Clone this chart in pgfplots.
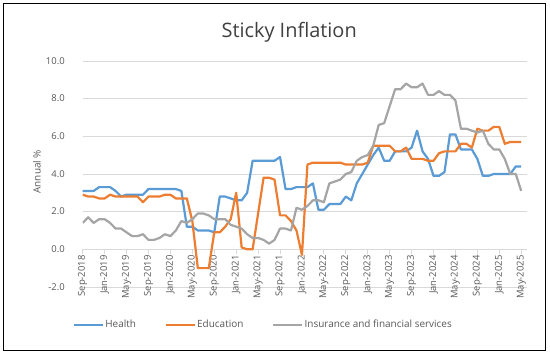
\documentclass[border=0pt]{standalone}
\usepackage{fontspec}
\setmainfont{Open Sans}
\usepackage{pgfplots}
\usepackage{pgfplotstable}
\pgfplotsset{compat=1.18}
\definecolor{cblue}{HTML}{5B9BD5}
\definecolor{corange}{HTML}{ED7D31}
\definecolor{cgray}{HTML}{A5A5A5}
\definecolor{cgrid}{HTML}{D9D9D9}
\definecolor{ctext}{HTML}{595959}
\definecolor{ctitle}{HTML}{404040}
\pgfplotstableread{
m health edu ins
0 3.1 2.9 1.4
1 3.1 2.8 1.7
2 3.1 2.8 1.4
3 3.3 2.7 1.6
4 3.3 2.7 1.6
5 3.3 2.9 1.4
6 3.1 2.8 1.1
7 2.8 2.8 1.1
8 2.9 2.8 0.9
9 2.9 2.8 0.7
10 2.9 2.8 0.7
11 2.9 2.5 0.8
12 3.2 2.8 0.5
13 3.2 2.8 0.5
14 3.2 2.8 0.6
15 3.2 2.9 0.8
16 3.2 2.9 0.7
17 3.2 2.7 1.0
18 3.1 2.7 1.5
19 1.2 2.7 1.4
20 1.2 1.5 1.6
21 1.0 -1.0 1.9
22 1.0 -1.0 1.9
23 1.0 -1.0 1.8
24 0.9 0.9 1.6
25 2.8 0.9 1.6
26 2.8 1.2 1.6
27 2.7 1.6 1.3
28 2.6 3.0 1.2
29 2.6 0.1 1.1
30 3.0 0.0 0.8
31 4.7 0.0 0.6
32 4.7 1.9 0.6
33 4.7 3.8 0.5
34 4.7 3.8 0.3
35 4.7 3.7 0.5
36 4.9 1.8 1.1
37 3.2 1.8 1.1
38 3.2 1.5 1.0
39 3.3 1.0 2.2
40 3.3 -0.3 2.1
41 3.3 4.5 2.3
42 3.5 4.6 2.6
43 2.1 4.6 2.6
44 2.1 4.6 2.5
45 2.4 4.6 3.5
46 2.4 4.6 3.6
47 2.4 4.6 3.7
48 2.8 4.5 4.0
49 2.6 4.5 4.1
50 3.5 4.5 4.7
51 4.0 4.5 4.9
52 4.5 4.6 5.0
53 5.0 5.5 5.5
54 5.4 5.5 6.6
55 4.7 5.5 6.7
56 4.7 5.5 7.6
57 5.2 5.2 8.5
58 5.2 5.2 8.5
59 5.2 5.4 8.8
60 5.4 4.8 8.6
61 6.3 4.8 8.6
62 5.2 4.8 8.8
63 4.8 4.7 8.2
64 3.9 4.7 8.2
65 3.9 5.1 8.4
66 4.1 5.2 8.2
67 6.1 5.2 8.2
68 6.1 5.2 7.9
69 5.3 5.6 6.4
70 5.3 5.6 6.4
71 5.3 5.4 6.3
72 4.8 6.4 6.2
73 3.9 6.3 6.3
74 3.9 6.3 5.6
75 4.0 6.5 5.3
76 4.0 6.5 5.3
77 4.0 5.6 4.8
78 4.0 5.7 4.0
79 4.4 5.7 4.0
80 4.4 5.7 3.1
}\datatable
\begin{document}
\begin{tikzpicture}
\path[use as bounding box] (0bp,0bp) rectangle (550bp,354bp);
\fill[white] (0bp,0bp) rectangle (550bp,354bp);
\draw[black, line width=0.9bp] (3.5bp,4bp) rectangle (545.5bp,351bp);
\begin{axis}[
  at={(82.7bp,104.7bp)}, anchor=origin,
  scale only axis, width=444bp, height=226bp,
  xmin=0, xmax=81, ymin=-2, ymax=10,
  axis x line=middle, axis y line=left,
  hide obscured x ticks=false,
  axis line style={-},
  x axis line style={draw=cgrid, line width=0.9bp},
  y axis line style={draw=none},
  ymajorgrids, major grid style={draw=cgrid, line width=0.9bp},
  ytick={-2,0,...,10},
  ytick style={draw=none},
  xtick={0,4,...,80},
  xticklabels={Sep-2018,Jan-2019,May-2019,Sep-2019,Jan-2020,May-2020,Sep-2020,Jan-2021,May-2021,Sep-2021,Jan-2022,May-2022,Sep-2022,Jan-2023,May-2023,Sep-2023,Jan-2024,May-2024,Sep-2024,Jan-2025,May-2025},
  xtick align=outside,
  x tick style={draw=cgrid, line width=0.9bp},
  major tick length=5bp,
  xticklabel style={rotate=90, anchor=east, font=\fontsize{9.5}{11}\selectfont, text=ctext, inner sep=1bp},
  yticklabel style={font=\fontsize{9.5}{11}\selectfont, text=ctext, xshift=-12bp},
  /pgf/number format/.cd, fixed, fixed zerofill, precision=1, assume math mode=true,
  /pgfplots/.cd,
  ylabel={Annual \%},
  every axis y label/.style={at={(axis description cs:-0.103,0.51)}, rotate=90, anchor=center, font=\fontsize{10}{12}\selectfont, text=ctext},
  title={Sticky Inflation},
  every axis title/.style={at={(axis description cs:0.465,1.128)}, anchor=center, font=\fontsize{20}{24}\selectfont, text=ctitle},
  legend columns=3,
  legend style={draw=none, fill=none, at={(axis description cs:0.406,-0.168)}, anchor=center, font=\fontsize{10}{12}\selectfont, text=ctext, nodes={inner sep=1.5bp}, /tikz/every even column/.append style={column sep=27bp}},
  legend image code/.code={\draw[#1] (0bp,0bp) -- (29bp,0bp);},
  every axis plot/.append style={line width=2.2bp, line join=round},
]
\addplot[cblue, mark=none] table[x=m, y=health] {\datatable};
\addlegendentry{Health}
\addplot[corange, mark=none] table[x=m, y=edu] {\datatable};
\addlegendentry{Education}
\addplot[cgray, mark=none] table[x=m, y=ins] {\datatable};
\addlegendentry{Insurance and financial services}
\end{axis}
\end{tikzpicture}
\end{document}
